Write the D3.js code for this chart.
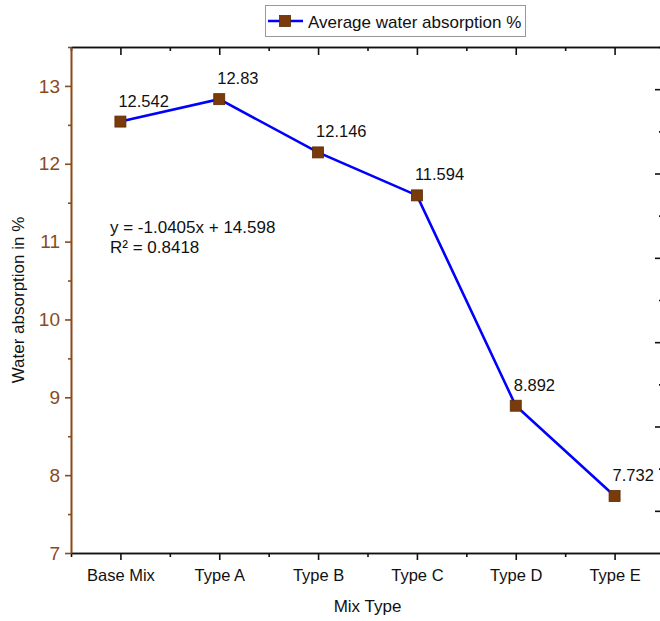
<!DOCTYPE html>
<html><head><meta charset="utf-8">
<script src="https://cdn.jsdelivr.net/npm/d3@7"></script>
<style>body{margin:0;background:#fff}svg{display:block;font-family:"Liberation Sans",Arial,sans-serif}</style>
</head><body><svg id="c" width="660" height="621"></svg>
<script>
const categories = ["Base Mix","Type A","Type B","Type C","Type D","Type E"];
const values = [12.542, 12.83, 12.146, 11.594, 8.892, 7.732];
const valueLabels = ["12.542","12.83","12.146","11.594","8.892","7.732"];
const yTicks = [7,8,9,10,11,12,13];
const yMinor = [7.5,8.5,9.5,10.5,11.5,12.5,13.5];
const rightTicks = [1,2,3,4,5,6];
const rightMinor = [1.5,2.5,3.5,4.5,5.5,6.5];
const seriesName = "Average water absorption %";
const equation = ["y = -1.0405x + 14.598", "R\u00b2 = 0.8418"];

const brown = "#8B4A1A", markFill = "#7A3B0A", blue = "#0000FF";
const L = 71, R = 664, T = 47, B = 553;
const svg = d3.select("#c");

const x = d3.scaleLinear().domain([-0.5, categories.length - 0.5]).range([L, R]);
const y = d3.scaleLinear().domain([7, 13.5]).range([B, T]);
const yR = d3.scaleLinear().domain([0.5, 6.5]).range([B, T]);
const idx = categories.map((d,i)=>i);
const minorX = d3.range(-0.5, categories.length, 1);

// bottom axis
const gB = svg.append("g").attr("transform",`translate(0,${B})`);
gB.call(d3.axisBottom(x).tickValues(idx).tickFormat(i=>categories[i]).tickSize(7).tickSizeOuter(0).tickPadding(9));
gB.append("g").call(d3.axisBottom(x).tickValues(minorX).tickFormat("").tickSize(4).tickSizeOuter(0));
gB.selectAll("text").attr("font-size",16.5).attr("fill","#111").attr("font-family","Liberation Sans, Arial, sans-serif");
gB.selectAll("path,line").attr("stroke","#111").attr("stroke-width",1.6);

// top axis (ticks inward)
const gT = svg.append("g").attr("transform",`translate(0,${T})`);
gT.call(d3.axisBottom(x).tickValues(idx).tickFormat("").tickSize(8).tickSizeOuter(0));
gT.append("g").call(d3.axisBottom(x).tickValues(minorX).tickFormat("").tickSize(4).tickSizeOuter(0));
gT.selectAll("path,line").attr("stroke","#111").attr("stroke-width",1.6);

// right axis (ticks inward)
const gR = svg.append("g").attr("transform",`translate(${R},0)`);
gR.call(d3.axisLeft(yR).tickValues(rightTicks).tickFormat("").tickSize(9).tickSizeOuter(0));
gR.append("g").call(d3.axisLeft(yR).tickValues(rightMinor).tickFormat("").tickSize(5).tickSizeOuter(0));
gR.selectAll("path,line").attr("stroke","#111").attr("stroke-width",1.6);

// left axis
const gL = svg.append("g").attr("transform",`translate(${L},0)`);
gL.call(d3.axisLeft(y).tickValues(yTicks).tickFormat(d3.format("d")).tickSize(6).tickSizeOuter(0).tickPadding(5));
gL.append("g").call(d3.axisLeft(y).tickValues(yMinor).tickFormat("").tickSize(3).tickSizeOuter(0));
gL.selectAll("path,line").attr("stroke",brown).attr("stroke-width",1.6);
gL.selectAll("text").attr("font-size",19).attr("fill",brown).attr("font-family","Liberation Sans, Arial, sans-serif");

// axis titles
svg.append("text").attr("x",(L+R)/2).attr("y",612).attr("text-anchor","middle")
  .attr("font-size",17).attr("fill","#111").text("Mix Type");
svg.append("text").attr("transform",`translate(24,${(T+B)/2}) rotate(-90)`).attr("text-anchor","middle")
  .attr("font-size",17).attr("fill","#111").text("Water absorption in %");

// line
svg.append("path").datum(values)
  .attr("d", d3.line().x((d,i)=>x(i)).y(d=>y(d)))
  .attr("fill","none").attr("stroke",blue).attr("stroke-width",2.6);

// markers
const ms = 11;
svg.selectAll("rect.m").data(values).join("rect").attr("class","m")
  .attr("x",(d,i)=>x(i)-ms/2).attr("y",d=>y(d)-ms/2).attr("width",ms).attr("height",ms)
  .attr("fill",markFill).attr("stroke","#5a2a05").attr("stroke-width",0.8);

// value labels
svg.selectAll("text.v").data(values).join("text").attr("class","v")
  .attr("x",(d,i)=>x(i)-2).attr("y",d=>y(d)-15)
  .attr("font-size",16.5).attr("fill","#111").text((d,i)=>valueLabels[i]);

// equation
svg.selectAll("text.eq").data(equation).join("text").attr("class","eq")
  .attr("x",110).attr("y",(d,i)=>233+i*20).attr("font-size",17).attr("fill","#111").text(d=>d);

// legend
const lg = svg.append("g");
lg.append("rect").attr("x",265.5).attr("y",5.5).attr("width",260).attr("height",31)
  .attr("fill","#fff").attr("stroke","#999").attr("stroke-width",1);
lg.append("line").attr("x1",268).attr("x2",303).attr("y1",21).attr("y2",21).attr("stroke",blue).attr("stroke-width",2.6);
lg.append("rect").attr("x",285-ms/2).attr("y",21-ms/2).attr("width",ms).attr("height",ms)
  .attr("fill",markFill).attr("stroke","#5a2a05").attr("stroke-width",0.8);
lg.append("text").attr("x",308).attr("y",27.5).attr("font-size",17).attr("fill","#111").text(seriesName);
</script></body></html>
